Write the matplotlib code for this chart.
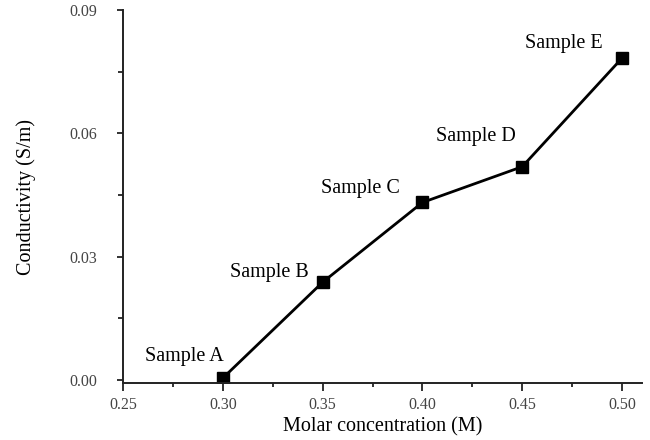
import matplotlib.pyplot as plt
from matplotlib.ticker import MultipleLocator

# Data
concentration = [0.30, 0.35, 0.40, 0.45, 0.50]
conductivity = [0.0005, 0.0238, 0.0432, 0.0519, 0.0783]
sample_labels = ['Sample A', 'Sample B', 'Sample C', 'Sample D', 'Sample E']
# label offsets in pixels from each point
label_offsets = [(-38, 22), (-53, 10), (-62, 14), (-46, 30), (-58, 15)]

plt.rcParams['font.family'] = ['Liberation Serif', 'DejaVu Serif']

fig = plt.figure(figsize=(6.5, 4.4), dpi=100)
ax = fig.add_axes([0.1892, 0.1295, 0.7985, 0.8478])

ax.plot(concentration, conductivity, color='black', linewidth=2,
        marker='s', markersize=8.5, markerfacecolor='black', markeredgecolor='black')

for x, y, lab, off in zip(concentration, conductivity, sample_labels, label_offsets):
    ax.annotate(lab, (x, y), xytext=off, textcoords='offset pixels',
                ha='center', va='center', fontsize=14.5)

ax.set_xlim(0.25, 0.51)
ax.set_ylim(-0.0007, 0.09)
ax.xaxis.set_major_locator(MultipleLocator(0.05))
ax.xaxis.set_minor_locator(MultipleLocator(0.025))
ax.yaxis.set_major_locator(MultipleLocator(0.03))
ax.yaxis.set_minor_locator(MultipleLocator(0.015))
ax.xaxis.set_major_formatter(plt.FormatStrFormatter('%.2f'))
ax.yaxis.set_major_formatter(plt.FormatStrFormatter('%.2f'))

for s in ['top', 'right']:
    ax.spines[s].set_visible(False)
for s in ['left', 'bottom']:
    ax.spines[s].set_linewidth(1.4)
    ax.spines[s].set_color('#222222')

ax.tick_params(axis='both', which='both', direction='out', width=1.3,
               color='#222222', labelsize=11.5, labelcolor='#444444')
ax.tick_params(axis='x', which='major', length=6, pad=4)
ax.tick_params(axis='x', which='minor', length=3)
ax.tick_params(axis='y', which='major', length=4.5, pad=14)
ax.tick_params(axis='y', which='minor', length=3.5)

ax.set_xlabel('Molar concentration (M)', fontsize=14.5, labelpad=3)
ax.set_ylabel('Conductivity (S/m)', fontsize=14.5, labelpad=24)

fig.savefig('out.png', dpi=100)
